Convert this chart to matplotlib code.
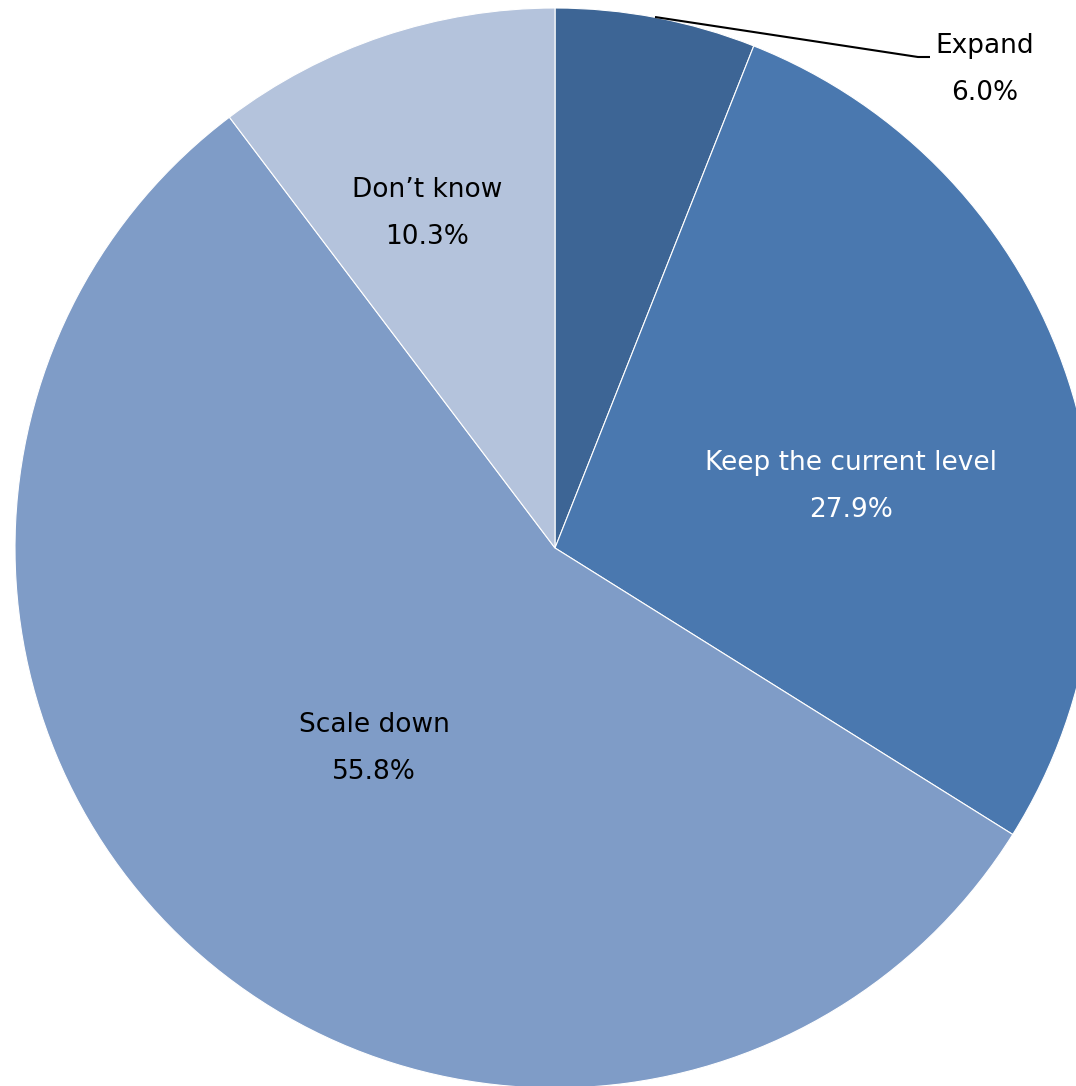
import matplotlib
matplotlib.use("Agg")
import matplotlib.pyplot as plt

plt.rcParams["font.family"] = ["DejaVu Sans"]

categories = ["Expand", "Keep the current level", "Scale down", "Don’t know"]
values = [6.0, 27.9, 55.8, 10.3]
colors = ["#3D6595", "#4A78AF", "#7F9CC7", "#B4C3DC"]
text_colors = ["black", "white", "black", "black"]

W, H = 1076, 1086
fig = plt.figure(figsize=(W / 100, H / 100), dpi=100)
ax = fig.add_axes([0, 0, 1, 1])

cx, cy, r = 555, H - 548, 540
wedges, _ = ax.pie(values, colors=colors, startangle=90, counterclock=False,
                   center=(cx, cy), radius=r, frame=True,
                   wedgeprops=dict(edgecolor="white", linewidth=0.8))
ax.set_xlim(0, W)
ax.set_ylim(0, H)
ax.set_aspect("equal")
ax.axis("off")

fs = 19
# label positions (pixel coords, y from top)
label_pos = [(985, 46), (851, 463), (374, 725), (427, 190)]
for cat, v, (x, y), tc in zip(categories, values, label_pos, text_colors):
    ax.text(x, H - y, cat, ha="center", va="center", fontsize=fs, color=tc)
    ax.text(x, H - y - 47, f"{v:.1f}%", ha="center", va="center", fontsize=fs, color=tc)

# leader line for Expand
ax.plot([655, 918, 930], [H - 17, H - 57, H - 57], color="black", lw=1.5,
        solid_capstyle="butt")

fig.savefig("out.png", dpi=100)
